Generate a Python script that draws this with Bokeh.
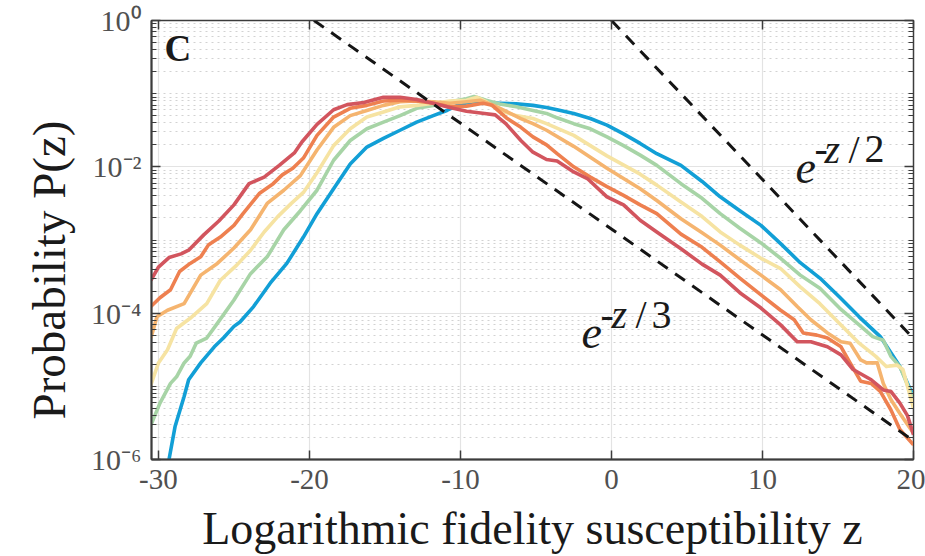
import numpy as np
from bokeh.plotting import figure
from bokeh.models import (FixedTicker, LinearAxis, LogAxis, Label, CustomJSTickFormatter, Title)
from bokeh.embed import file_html
from bokeh.resources import INLINE

# ---------------- data (z, log10 P(z)) ----------------
z_blue = [-29.3, -28.9, -28.3, -28.0, -27.2, -26.3, -25.7, -25.0, -24.6, -23.7, -22.6, -21.5, -20.4,
          -19.5, -18.4, -17.3, -16.2, -15.1, -14.0, -12.9, -11.8, -10.9, -10.0, -9.1, -7.4, -6.3,
          -5.2, -4.3, -3.6, -2.5, -1.4, -0.3, 0.8, 1.9, 3.0, 4.6, 6.0, 7.2, 8.5, 9.9, 11.2, 12.5,
          13.8, 15.1, 16.4, 17.8, 19.1, 20.0]
log10p_blue = [-6.0, -5.55, -5.14, -4.91, -4.68, -4.46, -4.34, -4.18, -4.12, -3.91, -3.59, -3.32, -2.96,
               -2.64, -2.30, -1.96, -1.73, -1.61, -1.50, -1.39, -1.30, -1.23, -1.14, -1.11, -1.13, -1.14,
               -1.16, -1.19, -1.22, -1.27, -1.34, -1.43, -1.55, -1.68, -1.82, -1.98, -2.20, -2.41, -2.60,
               -2.80, -3.05, -3.31, -3.52, -3.78, -4.05, -4.32, -4.73, -5.14]

z_green = [-30.5, -29.9, -29.2, -28.8, -28.3, -27.9, -27.5, -26.8, -26.1, -25.0, -23.9, -22.8, -21.7,
           -20.6, -19.5, -18.4, -17.3, -16.2, -15.1, -14.0, -12.9, -11.8, -10.7, -9.6, -9.1, -8.3,
           -7.4, -6.3, -5.2, -4.3, -3.6, -2.5, -1.4, -0.3, 0.8, 1.9, 3.0, 4.6, 6.0, 7.2, 8.5, 9.9,
           11.2, 12.5, 13.8, 15.1, 16.4, 17.3, 18.0, 18.5, 19.1, 20.0]
log10p_green = [-5.53, -5.23, -4.96, -4.87, -4.68, -4.59, -4.41, -4.34, -4.14, -3.82, -3.46, -3.23, -2.86,
                -2.60, -2.32, -1.91, -1.64, -1.48, -1.39, -1.30, -1.20, -1.16, -1.11, -1.07, -1.04, -1.09,
                -1.14, -1.18, -1.23, -1.27, -1.33, -1.41, -1.48, -1.59, -1.71, -1.84, -1.98, -2.23, -2.43,
                -2.64, -2.84, -3.04, -3.25, -3.48, -3.66, -3.93, -4.16, -4.32, -4.37, -4.59, -4.73, -5.18]

z_yellow = [-30.5, -30.0, -29.4, -28.8, -27.9, -26.8, -25.9, -24.8, -23.9, -23.0, -22.1, -21.2, -20.4,
            -19.5, -18.4, -17.3, -16.2, -15.1, -14.0, -12.9, -11.8, -10.7, -9.6, -8.9, -8.3, -7.4,
            -6.3, -5.2, -4.3, -2.5, -0.3, 1.9, 3.0, 4.6, 6.0, 7.2, 8.5, 9.9, 11.2, 12.5, 13.8, 15.1,
            16.4, 17.5, 18.2, 18.9, 19.3, 20.0]
log10p_yellow = [-4.98, -4.68, -4.50, -4.21, -4.07, -3.87, -3.55, -3.34, -3.14, -2.89, -2.68, -2.50, -2.35,
                 -2.08, -1.71, -1.48, -1.32, -1.25, -1.18, -1.16, -1.13, -1.10, -1.09, -1.05, -1.11, -1.23,
                 -1.30, -1.34, -1.41, -1.57, -1.85, -2.10, -2.25, -2.48, -2.68, -2.89, -3.07, -3.25, -3.39,
                 -3.64, -3.87, -4.14, -4.41, -4.59, -4.73, -4.71, -4.77, -5.30]

z_lorange = [-30.5, -30.1, -29.4, -28.3, -27.2, -26.1, -25.0, -23.9, -22.8, -21.7, -20.6, -19.5, -18.4,
             -17.3, -16.2, -15.1, -14.0, -12.9, -11.8, -10.7, -9.6, -8.7, -7.8, -6.9, -6.0, -5.2, -4.3,
             -2.5, -0.3, 1.9, 3.0, 4.6, 6.0, 7.2, 8.5, 9.9, 11.2, 12.3, 13.2, 14.3, 15.2, 15.8, 16.5,
             16.9, 17.6, 18.0, 18.5, 19.1, 20.0]
log10p_lorange = [-4.34, -4.05, -3.96, -3.87, -3.48, -3.32, -3.11, -2.86, -2.50, -2.32, -2.12, -1.77, -1.46,
                  -1.30, -1.23, -1.16, -1.11, -1.10, -1.11, -1.13, -1.11, -1.09, -1.16, -1.25, -1.34, -1.41,
                  -1.50, -1.72, -2.02, -2.30, -2.46, -2.71, -2.90, -3.07, -3.27, -3.48, -3.68, -3.91, -4.09,
                  -4.27, -4.39, -4.41, -4.64, -4.68, -4.68, -4.96, -5.18, -5.37, -5.64]

z_orange = [-30.5, -29.9, -29.2, -28.6, -27.9, -27.2, -26.7, -25.9, -25.0, -24.4, -23.3, -22.4, -21.8,
            -21.1, -20.4, -19.5, -18.4, -17.3, -16.2, -15.1, -14.0, -12.9, -11.8, -10.7, -9.6, -8.5,
            -7.9, -6.9, -6.0, -5.2, -4.3, -3.6, -2.5, -1.4, -0.3, 0.8, 1.9, 3.0, 4.6, 6.0, 7.2, 8.5,
            9.9, 11.2, 12.1, 12.7, 13.6, 14.3, 15.2, 15.8, 16.5, 17.2, 17.8, 18.5, 19.1, 20.0]
log10p_orange = [-3.91, -3.79, -3.68, -3.43, -3.32, -3.23, -3.07, -2.96, -2.80, -2.64, -2.36, -2.23, -2.11,
                 -2.02, -1.88, -1.57, -1.32, -1.20, -1.16, -1.10, -1.09, -1.10, -1.13, -1.18, -1.17, -1.13,
                 -1.16, -1.34, -1.46, -1.59, -1.70, -1.82, -2.00, -2.14, -2.27, -2.39, -2.52, -2.64, -2.92,
                 -3.10, -3.30, -3.52, -3.75, -3.96, -4.09, -4.27, -4.30, -4.34, -4.46, -4.68, -4.93, -4.96,
                 -5.07, -5.32, -5.59, -5.80]

z_red = [-30.5, -30.0, -29.3, -28.5, -28.0, -27.0, -26.0, -25.0, -24.0, -23.0, -22.0, -21.0, -20.5,
         -19.5, -18.4, -17.5, -16.4, -15.1, -14.0, -12.9, -11.8, -10.7, -9.6, -8.4, -7.7, -7.0, -6.0,
         -5.2, -4.3, -3.6, -2.5, -1.6, -0.3, 0.8, 1.9, 3.0, 4.6, 6.0, 7.2, 8.5, 9.9, 11.2, 12.3, 13.2,
         14.3, 15.2, 16.0, 17.2, 18.0, 18.5, 19.1, 19.6, 20.0]
log10p_red = [-3.55, -3.37, -3.24, -3.19, -3.14, -2.93, -2.74, -2.52, -2.23, -2.14, -1.98, -1.81, -1.66,
              -1.42, -1.22, -1.15, -1.12, -1.05, -1.05, -1.08, -1.13, -1.19, -1.24, -1.27, -1.29, -1.41,
              -1.64, -1.80, -1.90, -1.92, -2.07, -2.16, -2.41, -2.52, -2.73, -2.89, -3.12, -3.33, -3.48,
              -3.72, -3.93, -4.16, -4.39, -4.39, -4.46, -4.57, -4.77, -4.91, -5.05, -5.07, -5.23, -5.40,
              -5.66]

# reference lines e^{-z/2} and e^{-z/3} (straight in log space), end points
ref_half_z = [0.0, 20.0]
ref_half_p = [1.0, 4.5e-5]
ref_third_z = [-19.7, 20.0]
ref_third_p = [1.0, 1.8e-6]

x_ticks = [-30, -20, -10, 0, 10, 20]
x_tick_labels = ["-30", "-20", "-10", "0", "10", "20"]
y_ticks = [1e-6, 1e-4, 1e-2, 1.0]
y_tick_labels = ["10\u207b\u2076", "10\u207b\u2074", "10\u207b\u00b2", "10\u2070"]

series = [
    (z_blue, log10p_blue, "#129fd6"),
    (z_green, log10p_green, "#a7d4a6"),
    (z_yellow, log10p_yellow, "#f6e3a2"),
    (z_lorange, log10p_lorange, "#f5b46f"),
    (z_orange, log10p_orange, "#ee8050"),
    (z_red, log10p_red, "#d2555e"),
]

# ---------------- figure ----------------
Z0, Z1 = -30.46, 20.0
W, H = 925, 556
FL, FT, FR, FB = 151, 20, 913, 460   # frame edges in page pixels
FW, FH = FR - FL, FB - FT
SERIF = "Liberation Serif"
AX = "#3c3c3c"
TICKC = "#505050"

p = figure(width=W, height=H, x_range=(Z0, Z1), y_range=(1e-6, 1.0), y_axis_type="log",
           output_backend="svg", toolbar_location=None, title=None,
           min_border_left=FL, min_border_right=W - FR, min_border_top=FT,
           min_border_bottom=H - FB)
p.outline_line_color = AX
p.outline_line_width = 1.5

xt = FixedTicker(ticks=x_ticks)
y_minor = [k * 10.0 ** e for e in range(-6, 0) for k in range(2, 10)] + [1e-5, 1e-3, 1e-1]
yt = FixedTicker(ticks=y_ticks, minor_ticks=y_minor)
blank = CustomJSTickFormatter(code="return '';")
xfmt = CustomJSTickFormatter(args=dict(tvals=x_ticks, tlabels=x_tick_labels), code="""
    let best = 0;
    for (let i = 0; i < tvals.length; i++) {
        if (Math.abs(tvals[i] - tick) < Math.abs(tvals[best] - tick)) best = i;
    }
    return tlabels[best];
""")
yfmt = CustomJSTickFormatter(args=dict(tvals=y_ticks, tlabels=y_tick_labels), code="""
    let best = 0;
    const lt = Math.log10(tick);
    for (let i = 0; i < tvals.length; i++) {
        if (Math.abs(Math.log10(tvals[i]) - lt) < Math.abs(Math.log10(tvals[best]) - lt)) best = i;
    }
    return tlabels[best];
""")

xa = p.xaxis[0]
xa.ticker = xt
xa.formatter = xfmt
xa.major_label_text_font = SERIF
xa.major_label_text_font_size = "29px"
xa.major_label_text_color = TICKC
xa.major_label_standoff = 10
xa.major_tick_in = 9
xa.major_tick_out = 0
xa.minor_tick_in = 0
xa.minor_tick_out = 0
xa.axis_line_color = AX
xa.axis_line_width = 2
xa.major_tick_line_color = AX
xa.major_tick_line_width = 1.5
xa.axis_label = "Logarithmic fidelity susceptibility z"
xa.axis_label_text_font = SERIF
xa.axis_label_text_font_size = "46px"
xa.axis_label_text_font_style = "normal"
xa.axis_label_text_color = "#1a1a1a"
xa.axis_label_standoff = 11

ya = p.yaxis[0]
ya.ticker = yt
ya.formatter = yfmt
ya.major_label_text_font = SERIF
ya.major_label_text_font_size = "30px"
ya.major_label_text_color = TICKC
ya.major_label_standoff = 10
ya.major_tick_in = 9
ya.major_tick_out = 0
ya.minor_tick_in = 5
ya.minor_tick_out = 0
ya.axis_line_color = AX
ya.axis_line_width = 2
ya.major_tick_line_color = AX
ya.minor_tick_line_color = AX
ya.major_tick_line_width = 1.5

top = LinearAxis(ticker=xt, formatter=blank, major_tick_in=9, major_tick_out=0,
                 minor_tick_in=0, minor_tick_out=0, axis_line_color=AX,
                 major_tick_line_color=AX, major_tick_line_width=1.5, major_label_standoff=0,
                 major_label_text_font_size="1px")
p.add_layout(top, "above")
right = LogAxis(ticker=yt, formatter=blank, major_tick_in=9, major_tick_out=0,
                minor_tick_in=5, minor_tick_out=0, axis_line_color=AX,
                major_tick_line_color=AX, minor_tick_line_color=AX,
                major_tick_line_width=1.5, major_label_standoff=0, major_label_text_font_size="1px")
p.add_layout(right, "right")

ylab = Title(text="Probability P(z)", text_font=SERIF, text_font_size="47px",
             text_font_style="normal", text_color="#1a1a1a", align="left", offset=40, standoff=27)
p.add_layout(ylab, "left")

p.xgrid.ticker = xt
p.xgrid.grid_line_color = "#e3e3e3"
p.xgrid.grid_line_width = 1.2
p.ygrid.ticker = yt
p.ygrid.grid_line_color = "#e3e3e3"
p.ygrid.grid_line_width = 1.2
p.ygrid.minor_grid_line_color = "#d2d2d2"
p.ygrid.minor_grid_line_dash = "2 4"
p.ygrid.minor_grid_line_width = 1

for zs, lp, col in series:
    p.line(zs, 10.0 ** np.array(lp), line_color=col, line_width=3.6, line_join="round")

p.line(ref_half_z, ref_half_p, line_color="#151515", line_width=3, line_dash="12 9")
p.line(ref_third_z, ref_third_p, line_color="#151515", line_width=3, line_dash="12 9")


# ---------------- in-frame texts positioned in page pixels ----------------
BASE_FIX = 13   # rendered baseline sits this many px below the anchor


def at(X, Y):
    z = Z0 + (X - FL) / FW * (Z1 - Z0)
    lp = -6 + 6 * (FB - Y) / FH
    return z, 10.0 ** lp


def lab(text, X, Y, size, style="normal"):
    x, y = at(X, Y - BASE_FIX)
    p.add_layout(Label(x=x, y=y, text=text, text_font=SERIF, text_font_size=f"{size}px",
                       text_font_style=style, text_color="#1a1a1a", text_align="left",
                       text_baseline="alphabetic"))


lab("C", 164, 61, 37, style="bold")

# e^{-z/2}
lab("e", 795, 180, 46, style="italic")
lab("-", 814, 162, 40)
lab("z", 824, 162, 40, style="italic")
lab("/", 848, 162, 40)
lab("2", 864, 162, 40)

# e^{-z/3}
lab("e", 581, 346, 46, style="italic")
lab("-", 600, 328, 40)
lab("z", 611, 328, 40, style="italic")
lab("/", 635, 328, 40)
lab("3", 651, 328, 40)

open("out.html", "w").write(file_html(p, INLINE))
